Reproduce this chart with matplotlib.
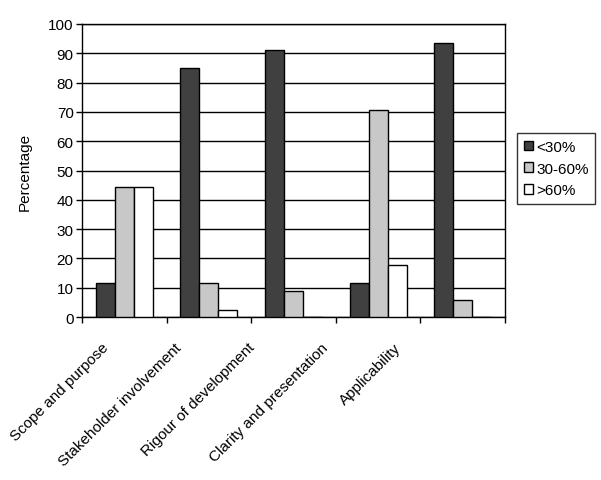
import matplotlib
matplotlib.use("Agg")
import matplotlib.pyplot as plt
import matplotlib.transforms as mtransforms
import numpy as np

plt.rcParams['font.family'] = ['Liberation Sans', 'DejaVu Sans']

categories = ["Scope and purpose", "Stakeholder involvement", "Rigour of development",
              "Clarity and presentation", "Applicability"]
series_names = ["<30%", "30-60%", ">60%"]
low = [11.5, 85, 91, 11.5, 93.6]
mid = [44.3, 11.6, 9, 70.6, 5.8]
high = [44.3, 2.5, 0, 17.7, 0]
yticks = list(range(0, 101, 10))

colors = ["#404040", "#c8c8c8", "#ffffff"]

fig = plt.figure(figsize=(6.01, 4.81), dpi=100)
ax = fig.add_axes([82/601, 1-318/481, (505-82)/601, (318-25)/481])

x = np.arange(len(categories))
w = 0.225
for i, (vals, name) in enumerate(zip([low, mid, high], series_names)):
    ax.bar(x + (i-1)*w, vals, w, color=colors[i], edgecolor='black', linewidth=1,
           label=name, zorder=3)

ax.set_xlim(-0.5, len(categories)-0.5)
ax.set_ylim(0, 100)
ax.set_yticks(yticks)
ax.yaxis.grid(True, color='black', linewidth=1, zorder=0)
ax.set_axisbelow(True)
for s in ax.spines.values():
    s.set_linewidth(1)
    s.set_color('black')
ax.tick_params(axis='y', direction='out', length=4, width=1, labelsize=11, pad=2)
ax.set_xticks(x)
ax.set_xticks(np.arange(-0.5, len(categories), 1.0), minor=True)
ax.tick_params(axis='x', which='major', length=0, pad=0, labelsize=11)
ax.tick_params(axis='x', which='minor', direction='out', length=4, width=1)
ax.set_xticklabels(categories, rotation=45, ha='right', va='top', rotation_mode='anchor')

# label end positions (pixel), as in the reference
centers_px = [82 + (i+0.5)*(505-82)/5 for i in range(5)]
ends_px = [101 + 73.2*i for i in range(5)]
for lab, c, e in zip(ax.get_xticklabels(), centers_px, ends_px):
    off = mtransforms.ScaledTranslation((e - c)/100, -23/100, fig.dpi_scale_trans)
    lab.set_transform(lab.get_transform() + off)

ax.set_ylabel("Percentage", fontsize=11, labelpad=12)

leg = ax.legend(loc='upper left', bbox_to_anchor=(517/601, 1-134/481),
                bbox_transform=fig.transFigure, fontsize=11, frameon=True,
                fancybox=False, edgecolor='black', handlelength=0.6, handleheight=0.6,
                handletextpad=0.2, borderpad=0.45, labelspacing=0.5, borderaxespad=0)
leg.get_frame().set_linewidth(1)

fig.savefig("out.png", dpi=100)
